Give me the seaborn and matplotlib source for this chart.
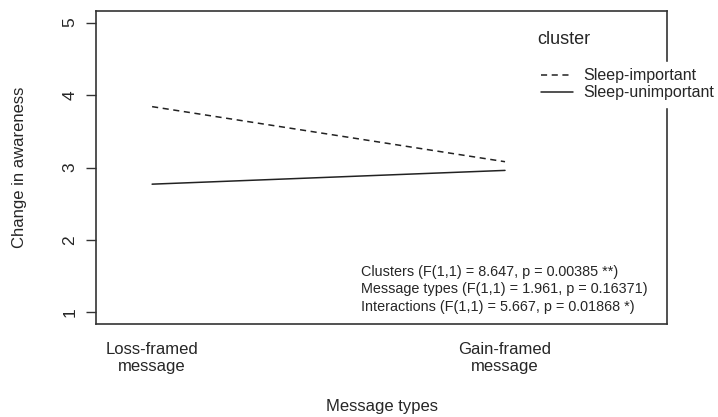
import pandas as pd
import matplotlib.pyplot as plt
import seaborn as sns
from matplotlib.lines import Line2D

# Dati (interaction plot)
message_types = ['Loss-framed\nmessage', 'Gain-framed\nmessage']
clusters = ['Sleep-important', 'Sleep-unimportant']
awareness_important = [3.84, 3.08]
awareness_unimportant = [2.77, 2.96]
stats_lines = [
    'Clusters (F(1,1) = 8.647, p = 0.00385 **)',
    'Message types (F(1,1) = 1.961, p = 0.16371)',
    'Interactions (F(1,1) = 5.667, p = 0.01868 *)',
]

df = pd.DataFrame({
    'message': message_types * 2,
    'cluster': [clusters[0]] * 2 + [clusters[1]] * 2,
    'awareness': awareness_important + awareness_unimportant,
})

sns.set_style('white')
plt.rcParams['font.family'] = ['Liberation Sans', 'DejaVu Sans']

fig, ax = plt.subplots(figsize=(7.18, 4.17), dpi=100)
fig.subplots_adjust(left=96/718, right=667/718, top=1-11/417, bottom=1-324/417)

line_col = '#222222'
sns.lineplot(data=df, x='message', y='awareness', style='cluster',
             dashes={clusters[0]: (4, 3), clusters[1]: ''},
             color=line_col, linewidth=1.1, sort=False, legend=False, ax=ax)

ax.set_xlim(-0.159, 1.459)
ax.set_ylim(0.84, 5.16)
ax.set_yticks([1, 2, 3, 4, 5])
ax.set_yticklabels(['1', '2', '3', '4', '5'], rotation=90, va='center')
ax.tick_params(axis='y', length=7.5, width=1, color='#333333', pad=6, left=True,
               labelsize=12.5)
ax.tick_params(axis='x', length=0, pad=13, labelsize=12)
for lab in ax.get_xticklabels():
    lab.set_ha('center')
    lab.set_multialignment('center')

for sp in ax.spines.values():
    sp.set_color('#333333')
    sp.set_linewidth(1.2)

ax.set_xlabel('Message types', fontsize=12)
ax.xaxis.set_label_coords(0.5, -(406 - 324) / 313, transform=ax.transAxes)
ax.xaxis.label.set_va('center')
ax.set_ylabel('Change in awareness', fontsize=12)
ax.yaxis.set_label_coords(-(96 - 20) / 571, 0.5, transform=ax.transAxes)
ax.yaxis.label.set_va('center')

# Legenda in stile R
handles = [Line2D([], [], color=line_col, lw=1.1, dashes=(4, 3)),
           Line2D([], [], color=line_col, lw=1.1)]
leg = fig.legend(handles, clusters, loc='upper left', bbox_to_anchor=(535/718, 1-62/417),
                 frameon=True, fontsize=11.5, handlelength=2.0, handletextpad=0.65,
                 labelspacing=0.12, borderpad=0.4, borderaxespad=0)
leg.get_frame().set_facecolor('white')
leg.get_frame().set_edgecolor('white')
leg.get_frame().set_alpha(1)
fig.text(537/718, 1-40/417, 'cluster', fontsize=13, va='center', ha='left')

# Risultati ANOVA
for i, s in enumerate(stats_lines):
    fig.text(361/718, 1-(272 + i*17.5)/417, s, fontsize=10.4, va='center', ha='left')

plt.savefig('out.png', dpi=100)
plt.close()
